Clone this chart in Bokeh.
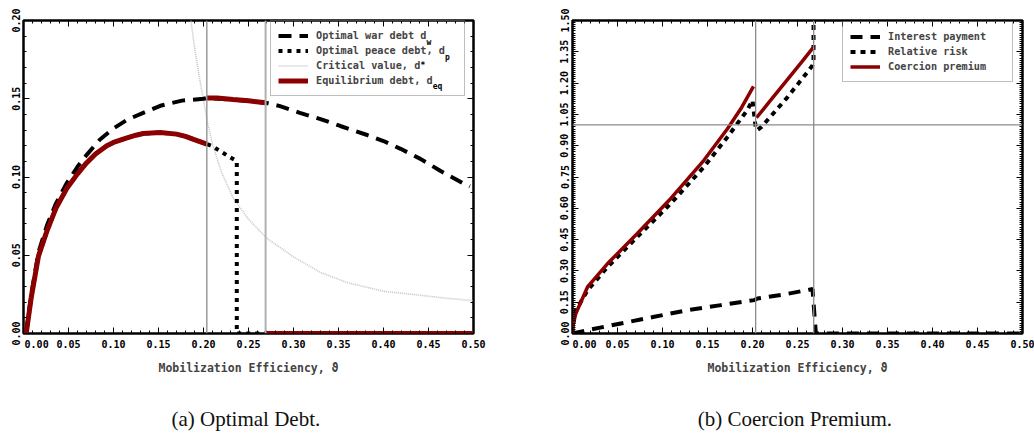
from bokeh.plotting import figure
from bokeh.models import (Span, Legend, LegendItem, LinearAxis, FixedTicker,
                          SingleIntervalTicker, Range1d, PrintfTickFormatter,
                          CustomJSTickFormatter)
from bokeh.core.properties import value
from bokeh.layouts import row
from bokeh.embed import file_html
from bokeh.resources import INLINE

nan = float("nan")

# ---------------- Panel (a): Optimal Debt ----------------
war_x = [0.003, 0.0086, 0.0167, 0.026, 0.036, 0.048, 0.060, 0.070, 0.085, 0.100, 0.115, 0.133,
         0.152, 0.176, 0.200, 0.2037, 0.233, 0.269, 0.285, 0.307, 0.330, 0.352, 0.381, 0.400,
         0.419, 0.441, 0.463, 0.489, 0.496]
war_y = [0.0, 0.025, 0.052, 0.069, 0.083, 0.096, 0.1065, 0.1140, 0.1240, 0.1310, 0.1365, 0.1410,
         0.1455, 0.1488, 0.1500, 0.1505, 0.1495, 0.1474, 0.1453, 0.1410, 0.1370, 0.1326, 0.1270,
         0.1230, 0.1180, 0.1116, 0.1040, 0.0958, 0.0940]

eq1_x = [0.003, 0.0086, 0.0167, 0.026, 0.036, 0.048, 0.060, 0.070, 0.080, 0.0926, 0.100, 0.115,
         0.125, 0.133, 0.152, 0.170, 0.180, 0.189, 0.2037]
eq1_y = [0.0, 0.023, 0.0496, 0.0654, 0.080, 0.0926, 0.1020, 0.1090, 0.1147, 0.1200, 0.1221,
         0.1250, 0.1267, 0.1278, 0.1284, 0.1274, 0.1260, 0.1240, 0.1210]
eq2_x = [0.2037, 0.215, 0.233, 0.250, 0.269]
eq2_y = [0.1505, 0.1505, 0.1495, 0.1487, 0.1474]
eq3_x = [0.270, 0.500]
eq3_y = [0.0, 0.0]

peace_tail_x = [0.2037, 0.2093, 0.220, 0.230, 0.2352, 0.237, 0.237, 0.250, 0.270, 0.500]
peace_tail_y = [0.121, 0.1198, 0.116, 0.1125, 0.1108, 0.110, 0.0, 0.0, 0.0, 0.0]

crit_x = [0.186, 0.190, 0.195, 0.200, 0.2044, 0.210, 0.220, 0.233, 0.250, 0.270, 0.300, 0.330,
          0.360, 0.400, 0.440, 0.470, 0.500]
crit_y = [0.200, 0.183, 0.165, 0.149, 0.135, 0.121, 0.103, 0.0865, 0.073, 0.061, 0.049, 0.039,
          0.0325, 0.027, 0.0245, 0.0225, 0.021]

thresholds_a = [0.2037, 0.269]

legend_a = ["Optimal war debt d", "Optimal peace debt, d", "Critical value, d", "Equilibrium debt, d"]
legend_a_marks = [("w", "sub"), ("p", "sub"), ("*", "sup"), ("eq", "sub")]

# ---------------- Panel (b): Coercion Premium ----------------
int_x = [0.0, 0.0167, 0.0537, 0.0907, 0.128, 0.165, 0.202, 0.2055, 0.239, 0.2667, 0.2704, 0.500]
int_y = [0.0, 0.016, 0.048, 0.080, 0.112, 0.136, 0.160, 0.168, 0.190, 0.213, 0.0, 0.0]

risk_x = [0.0, 0.001, 0.0037, 0.0167, 0.039, 0.072, 0.109, 0.146, 0.172, 0.194, 0.200, 0.2037,
          0.2055, 0.210, 0.239, 0.261, 0.2667, 0.2678, 0.2678]
risk_y = [0.0, 0.05, 0.11, 0.207, 0.319, 0.463, 0.622, 0.798, 0.941, 1.069, 1.117, 0.981,
          0.975, 0.99, 1.133, 1.253, 1.285, 1.30, 1.48]

prem1_x = [0.0, 0.001, 0.0037, 0.0167, 0.039, 0.072, 0.109, 0.146, 0.172, 0.187, 0.2011]
prem1_y = [0.0, 0.05, 0.096, 0.223, 0.335, 0.479, 0.646, 0.830, 0.980, 1.077, 1.184]
prem2_x = [0.2044, 0.220, 0.239, 0.255, 0.2678]
prem2_y = [1.034, 1.117, 1.218, 1.303, 1.372]

thresholds_b = [0.2035, 0.268]
parity_b = 1.0

legend_b = ["Interest payment", "Relative risk", "Coercion premium"]

x_label = "Mobilization Efficiency, \u03d1"
captions = ["(a)  Optimal Debt.", "(b)  Coercion Premium."]

MONO = "DejaVu Sans Mono"
DARKRED = "#8b0000"
TICK_PX = "10px"
LEG_PX = 10.2
CHAR_W = 0.602 * LEG_PX
NB = "\u00a0"
W, H = 517, 433


def make_fig(yr, yint, yminor, bl, br, bt, bb, caption):
    p = figure(width=W, height=H, x_range=Range1d(0.0, 0.5), y_range=Range1d(*yr),
               output_backend="svg", toolbar_location=None,
               x_axis_location=None, y_axis_location=None,
               min_border_left=bl, min_border_right=br, min_border_top=bt, min_border_bottom=bb)
    p.background_fill_color = "white"
    p.border_fill_color = "white"
    p.outline_line_color = "black"
    p.outline_line_width = 2.5
    for g in p.grid:
        g.visible = False
    xt = SingleIntervalTicker(interval=0.05, num_minor_ticks=5)
    yt = SingleIntervalTicker(interval=yint, num_minor_ticks=yminor)
    for loc, tk in (("below", xt), ("above", xt), ("left", yt), ("right", yt)):
        if loc in ("above", "right"):
            fmt = CustomJSTickFormatter(code="return ''")
        else:
            fmt = PrintfTickFormatter(format="%.2f")
        ax = LinearAxis(ticker=tk, formatter=fmt)
        ax.axis_line_color = None
        ax.major_tick_in = 6
        ax.major_tick_out = 0
        ax.minor_tick_in = 3
        ax.minor_tick_out = 0
        ax.major_tick_line_color = "black"
        ax.minor_tick_line_color = "black"
        ax.major_label_text_font = MONO
        ax.major_label_text_font_style = "bold"
        ax.major_label_text_font_size = TICK_PX
        ax.major_label_text_color = "black"
        if loc in ("above", "right"):
            ax.major_label_standoff = 0
        if loc == "left":
            ax.major_label_orientation = "vertical"
            ax.major_label_standoff = 4
        if loc == "below":
            ax.major_label_standoff = 5
            ax.major_label_overrides = {0: NB * 4 + "0.00"}
            ax.axis_label = x_label
            ax.axis_label_text_font = MONO
            ax.axis_label_text_font_style = "bold"
            ax.axis_label_text_font_size = "11.5px"
            ax.axis_label_standoff = 8
        p.add_layout(ax, loc)
    # caption as the label of an extra, tick-less axis below
    cap = LinearAxis(ticker=FixedTicker(ticks=[]), axis_label=caption)
    cap.axis_line_color = None
    cap.major_tick_line_color = None
    cap.minor_tick_line_color = None
    cap.major_tick_in = 0
    cap.major_tick_out = 0
    cap.minor_tick_in = 0
    cap.minor_tick_out = 0
    cap.major_label_standoff = 0
    cap.axis_label_standoff = 29
    cap.axis_label_text_font = "Liberation Serif"
    cap.axis_label_text_font_size = "21px"
    cap.axis_label_text_font_style = "normal"
    cap.axis_label_text_color = "#111111"
    p.add_layout(cap, "below")
    fw = W - bl - br
    fh = H - bt - bb
    return p, 0.5 / fw, (yr[1] - yr[0]) / fh


def add_legend(p, sx, sy, items, labels, x0, y0, pad, lh, extra, marks=None):
    leg = Legend(items=[LegendItem(label=lab + " " * extra, renderers=[r])
                        for lab, r in zip(labels, items)],
                 location=(x0, y0), padding=pad, spacing=0, margin=0, label_height=lh,
                 glyph_height=lh, glyph_width=30, label_standoff=8,
                 label_text_font=MONO, label_text_font_style="bold",
                 label_text_font_size=f"{LEG_PX}px", border_line_color="#808080",
                 border_line_width=1.5, background_fill_alpha=0.0)
    p.add_layout(leg, "center")
    if marks:
        n = len(labels)
        h = 2 * pad + n * lh
        tx = x0 + pad + 30 + 8
        mx, my, mt = [], [], []
        for i, (lab, (m, kind)) in enumerate(zip(labels, marks)):
            cy = y0 + h - pad - i * lh - lh / 2 + (4.0 if kind == "sup" else -2.5)
            mx.append((tx + len(lab) * CHAR_W + 0.5) * sx)
            my.append(cy * sy)
            mt.append(m)
        p.text(x=mx, y=my, text=mt, text_font=value(MONO), text_font_style="bold",
               text_font_size="8px", text_baseline="middle", text_align="left",
               text_color="black")


# ---------- figure a ----------
pa, sxa, sya = make_fig((0.0, 0.2), 0.05, 5, 23, 44, 17, 100, captions[0])
for xv, col, w in zip(thresholds_a, ["#8c8c8c", "#b0b0b0"], [1.3, 2.0]):
    pa.add_layout(Span(location=xv, dimension="height", line_color=col, line_width=w))

r_crit = pa.line(crit_x, crit_y, line_color="#c4c4c4", line_width=1.6, line_dash="1 1")
r_war = pa.line(war_x, war_y, line_color="black", line_width=4, line_dash="13 8")
r_peace = pa.line(eq1_x + peace_tail_x, eq1_y + peace_tail_y, line_color="black", line_width=4,
                  line_dash="4 5")
r_eq = pa.line(eq1_x + [nan] + eq2_x + [nan] + eq3_x, eq1_y + [nan] + eq2_y + [nan] + eq3_y,
               line_color=DARKRED, line_width=5)
add_legend(pa, sxa, sya, [r_war, r_peace, r_crit, r_eq], legend_a, 247, 237, 7, 15, 2,
           legend_a_marks)

# ---------- figure b ----------
pb, sxb, syb = make_fig((0.0, 1.5), 0.15, 15, 55, 12, 20, 100, captions[1])
for xv in thresholds_b:
    pb.add_layout(Span(location=xv, dimension="height", line_color="#8c8c8c", line_width=1.3))
pb.add_layout(Span(location=parity_b, dimension="width", line_color="#8c8c8c", line_width=1.3))

r_int = pb.line(int_x, int_y, line_color="black", line_width=4, line_dash="12 8")
r_risk = pb.line(risk_x, risk_y, line_color="black", line_width=4, line_dash="5 5")
r_prem = pb.line(prem1_x + [nan] + prem2_x, prem1_y + [nan] + prem2_y, line_color=DARKRED,
                 line_width=3.5)
add_legend(pb, sxb, syb, [r_int, r_risk, r_prem], legend_b, 270, 251, 7, 15, 3)

layout = row(pa, pb)
open("out.html", "w").write(file_html(layout, INLINE))
